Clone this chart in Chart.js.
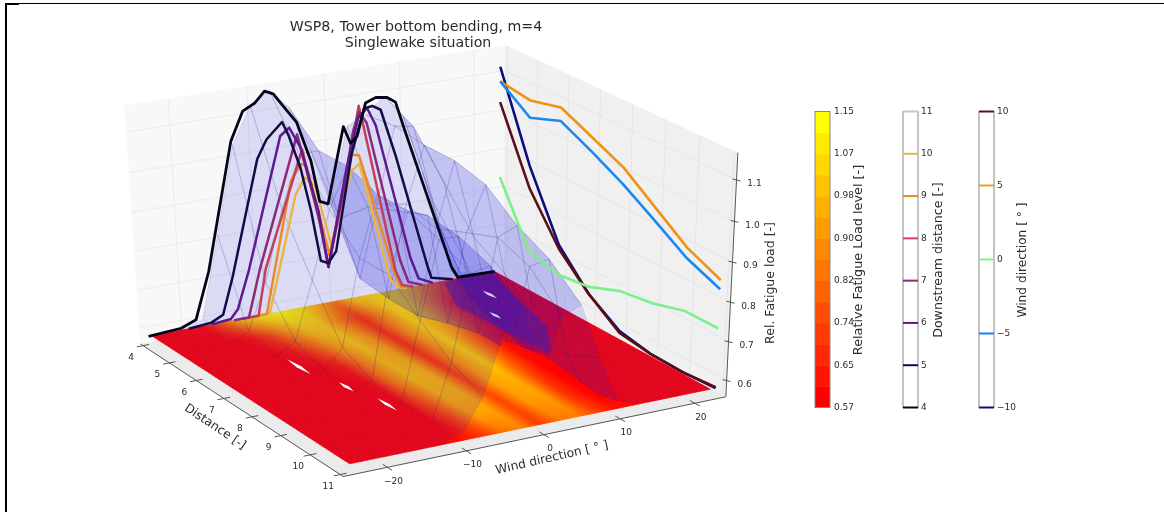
<!DOCTYPE html>
<html>
<head>
<meta charset="utf-8">
<title>WSP8 Tower bottom bending</title>
<script src="https://cdn.jsdelivr.net/npm/chart.js@4"></script>
<style>
  html, body { margin: 0; padding: 0; background: #fff; overflow: hidden; }
  #wrap { position: relative; width: 1164px; height: 512px; }
  #chart { position: absolute; left: 0; top: 0; filter: blur(0.6px); }
  .edge { position: absolute; background: #000; }
</style>
</head>
<body>
<div id="wrap">
  <canvas id="chart" width="1164" height="512"></canvas>
  <div class="edge" style="left:5px;top:3px;width:1159px;height:1px"></div>
  <div class="edge" style="left:5px;top:3px;width:14px;height:2px"></div>
  <div class="edge" style="left:5px;top:3px;width:2px;height:509px"></div>
</div>
<script>
// Load vs wind direction, one curve per downstream distance
const wind4 = [-24.7, -20.4, -18.4, -16.4, -12.7, -11, -9.4, -8.1, -7, -5, -4.1, -2.4, -1.4, -0.3, 2, 2.9, 3.8, 5, 6.4, 7.9, 9, 10.1, 16.4, 17.3, 22.5];
const load4 = [0.58, 0.585, 0.6, 0.72, 1.04, 1.11, 1.125, 1.15, 1.14, 1.085, 1.06, 0.957, 0.85, 0.84, 1.03, 0.985, 1.0, 1.08, 1.09, 1.085, 1.07, 1.0, 0.615, 0.583, 0.58];
const wind5 = [-19.4, -16.4, -14.8, -13.3, -9.4, -8.1, -6, -5.2, -3.8, -2.6, -1.5, -0.5, 0.6, 3, 4.8, 5.9, 7, 8.9, 13.1, 13.6, 16.6];
const load5 = [0.58, 0.585, 0.6, 0.695, 0.985, 1.03, 1.067, 1.03, 0.944, 0.83, 0.695, 0.685, 0.713, 0.956, 1.067, 1.07, 1.057, 0.934, 0.626, 0.595, 0.58];
const wind6 = [-16.4, -13.8, -12.8, -11.1, -6.3, -5.1, -3.7, -1.6, -0.5, 2.3, 4, 5.2, 6.3, 10.7, 11.8, 13.8];
const load6 = [0.58, 0.585, 0.608, 0.706, 1.033, 1.05, 0.995, 0.825, 0.675, 0.924, 1.046, 1.067, 1.02, 0.66, 0.6, 0.58];
const wind7 = [-13.4, -11.4, -9.7, -4.1, -3.3, -1.6, -0.5, 2.1, 3.3, 4.1, 5.1, 9.3, 10.4, 12.4];
const load7 = [0.58, 0.58, 0.7, 1.03, 0.96, 0.81, 0.675, 0.9, 1.016, 1.06, 1.03, 0.657, 0.595, 0.58];
const wind8 = [-12.4, -10.1, -8.9, -3.5, -1.4, -0.5, 2.1, 4.1, 4.5, 8.6, 9.5, 11.1];
const load8 = [0.58, 0.58, 0.7, 0.99, 0.786, 0.675, 0.887, 1.076, 1.04, 0.634, 0.59, 0.58];
const wind9 = [-11.4, -9, -7.7, -5.1, -3.7, -3, -0.3, 3, 4, 8.5, 9.3, 10.6];
const load9 = [0.58, 0.58, 0.693, 0.916, 0.954, 0.946, 0.705, 0.956, 0.95, 0.626, 0.587, 0.58];
const wind10 = [-10.4, -8.6, -7.1, -4.6, -3.3, -2, 0, 2.9, 4, 7.9, 8.9, 10.1];
const load10 = [0.58, 0.58, 0.69, 0.877, 0.918, 0.893, 0.73, 0.913, 0.93, 0.61, 0.587, 0.58];
const distColors = ['#05051a', '#120c45', '#5c1a8c', '#8a2a78', '#c23f5c', '#e98a28', '#e9b44a'];

// Load vs distance, one curve per wind direction
const windDist = [4, 5, 6, 7, 8, 9, 10, 11];
const loadWindMinus10 = [1.116, 0.9, 0.733, 0.646, 0.593, 0.577, 0.575, 0.58];
const loadWindMinus5 = [1.079, 1.023, 1.052, 1.013, 0.97, 0.919, 0.866, 0.832];
const loadWind0 = [0.831, 0.675, 0.654, 0.665, 0.697, 0.709, 0.733, 0.733];
const loadWind5 = [1.079, 1.067, 1.086, 1.049, 1.012, 0.952, 0.892, 0.855];
const loadWind10 = [1.026, 0.842, 0.723, 0.646, 0.588, 0.577, 0.575, 0.582];

// Load surface mesh, same values feed the floor contour and the blue sheet
const gridWind = [-24.3, -20, -17.5, -15, -12.5, -10, -7.5, -5, -2.5, 0, 2.5, 5, 7.5, 10, 12.5, 15, 17.5, 20, 22.5];
const gridDist = [4, 5, 6, 7, 8, 9, 10, 11];
const surface4 = [0.58, 0.585, 0.6, 0.81, 1.03, 1.12, 1.15, 1.1, 0.99, 0.84, 1.03, 1.05, 1.09, 1.03, 0.88, 0.72, 0.6, 0.58, 0.58];
const surface5 = [0.58, 0.58, 0.58, 0.6, 0.72, 0.9, 1.03, 1.03, 0.85, 0.685, 0.87, 1.06, 1.05, 0.85, 0.66, 0.585, 0.58, 0.58, 0.58];
const surface6 = [0.58, 0.58, 0.58, 0.58, 0.61, 0.76, 0.93, 1.03, 0.92, 0.675, 0.91, 1.05, 0.95, 0.75, 0.6, 0.58, 0.58, 0.58, 0.58];
const surface7 = [0.58, 0.58, 0.58, 0.58, 0.58, 0.63, 0.85, 1.0, 0.95, 0.675, 0.89, 1.05, 0.85, 0.63, 0.58, 0.58, 0.58, 0.58, 0.58];
const surface8 = [0.58, 0.58, 0.58, 0.58, 0.58, 0.59, 0.85, 1.0, 0.98, 0.7, 0.92, 1.03, 0.8, 0.6, 0.58, 0.58, 0.58, 0.58, 0.58];
const surface9 = [0.58, 0.58, 0.58, 0.58, 0.58, 0.58, 0.78, 0.97, 0.97, 0.72, 0.95, 0.97, 0.72, 0.58, 0.58, 0.58, 0.58, 0.58, 0.58];
const surface10 = [0.58, 0.58, 0.58, 0.58, 0.58, 0.58, 0.72, 0.93, 0.94, 0.72, 0.92, 0.93, 0.68, 0.58, 0.58, 0.58, 0.58, 0.58, 0.58];
const surface11 = [0.58, 0.58, 0.58, 0.58, 0.58, 0.6, 0.68, 0.82, 0.88, 0.7, 0.84, 0.86, 0.72, 0.6, 0.58, 0.58, 0.58, 0.58, 0.58];
const surfaceRows = [surface4, surface5, surface6, surface7, surface8, surface9, surface10, surface11];

// Small gaps in the floor contour: distance, wind direction
const holeDist = [6.63, 7.88, 8.95, 5.04, 6.04];
const holeWind = [-14.4, -12.9, -11.7, 17.6, 14.3];
const holeLen = [0.42, 0.25, 0.33, 0.25, 0.2];
const holeColors = ['#ffffff', '#ffffff', '#ffffff', '#cfcdf3', '#cfcdf3'];

// Tick labels
const distTicks = [4, 5, 6, 7, 8, 9, 10, 11];
const windTicks = [-20, -10, 0, 10, 20];
const loadTicks = [0.6, 0.7, 0.8, 0.9, 1.0, 1.1];
const levelLabels = ['0.57', '0.65', '0.74', '0.82', '0.90', '0.98', '1.07', '1.15'];
const distBarLabels = ['4', '5', '6', '7', '8', '9', '10', '11'];
const distBarColors = ['#05051a', '#120c45', '#5c1a8c', '#8a2a78', '#d8405a', '#e98a28', '#e9b44a', '#c8c8b8'];
const windBarLabels = ['\u221210', '\u22125', '0', '5', '10'];
const windBarColors = ['#120c70', '#1a80f0', '#80f080', '#ef9a20', '#5a1414'];

// Axes box limits
const dLo = 3.9, dHi = 11.1, wLo = -25.5, wHi = 24.2, zLo = 0.558, zHi = 1.165;
const floorLoad = 0.58;
const windWall = 23.2;
const LOAD_MIN = 0.57, LOAD_MAX = 1.15;

// Where the corners of the axes box land on the page (camera calibration)
const boxCorners = [
  [0, 0, 0, 140, 345], [1, 0, 0, 343, 476], [1, 1, 0, 725, 397], [0, 1, 0, 505, 275],
  [0, 0, 1, 125, 105], [0, 1, 1, 503, 45], [1, 1, 1, 739, 153]
];

// Least squares fit of the projective camera
function fitCamera(points) {
  const n = 11;
  const A = [];
  for (let i = 0; i < n; i++) A.push(new Array(n + 1).fill(0));
  function addRow(row, rhs) {
    for (let i = 0; i < n; i++) {
      for (let j = 0; j < n; j++) A[i][j] += row[i] * row[j];
      A[i][n] += row[i] * rhs;
    }
  }
  points.forEach(([X, Y, Z, u, v]) => {
    addRow([X, Y, Z, 1, 0, 0, 0, 0, -u * X, -u * Y, -u * Z], u);
    addRow([0, 0, 0, 0, X, Y, Z, 1, -v * X, -v * Y, -v * Z], v);
  });
  for (let c = 0; c < n; c++) {
    let best = c;
    for (let r = c + 1; r < n; r++) if (Math.abs(A[r][c]) > Math.abs(A[best][c])) best = r;
    [A[c], A[best]] = [A[best], A[c]];
    for (let r = 0; r < n; r++) {
      if (r === c) continue;
      const f = A[r][c] / A[c][c];
      for (let k = c; k <= n; k++) A[r][k] -= f * A[c][k];
    }
  }
  return A.map((row, i) => row[n] / row[i]);
}
const cam = fitCamera(boxCorners);

// distance, wind direction, load -> page position
function project(d, w, z) {
  const X = (d - dLo) / (dHi - dLo), Y = (w - wLo) / (wHi - wLo), Z = (z - zLo) / (zHi - zLo);
  const q = cam[8] * X + cam[9] * Y + cam[10] * Z + 1;
  return {
    x: (cam[0] * X + cam[1] * Y + cam[2] * Z + cam[3]) / q,
    y: (cam[4] * X + cam[5] * Y + cam[6] * Z + cam[7]) / q
  };
}

function autumn(z) {
  const t = Math.max(0, Math.min(1, (z - LOAD_MIN) / (LOAD_MAX - LOAD_MIN)));
  return 'rgb(255,' + Math.round(255 * t) + ',0)';
}

function distCurve(wind, load) {
  return wind.map((w, i) => project(4, w, load[i]));
}
function windCurve(load) {
  return windDist.map((d, i) => project(d, windWall, load[i]));
}

const distCurves = [[wind4, load4], [wind5, load5], [wind6, load6], [wind7, load7], [wind8, load8], [wind9, load9], [wind10, load10]];
const datasets = distCurves.map((c, i) => ({
  data: distCurve(c[0], c[1]),
  borderColor: distColors[i],
  borderWidth: i === 0 ? 2.8 : 2.5
}));
datasets.push({ data: windCurve(loadWindMinus5), borderColor: '#1a88f0', borderWidth: 2.6 });
datasets.push({ data: windCurve(loadWind5), borderColor: '#ef9412', borderWidth: 2.6 });
datasets.push({ data: windCurve(loadWind0), borderColor: '#7cf08a', borderWidth: 2.6 });
datasets.push({ data: windCurve(loadWind10), borderColor: '#5a0f14', borderWidth: 2.6 });
datasets.push({ data: windCurve(loadWindMinus10), borderColor: '#0c0c80', borderWidth: 2.6 });

// Painted on the box, under the curves
const scenePlugin = {
  id: 'scene',
  beforeDatasetsDraw(chart) {
    const ctx = chart.ctx;
    const sx = chart.scales.x, sy = chart.scales.y;
    const px = p => [sx.getPixelForValue(p.x), sy.getPixelForValue(p.y)];

    function poly(points, fill, stroke, lw) {
      ctx.beginPath();
      points.forEach((p, i) => {
        const [a, b] = px(p);
        if (i === 0) ctx.moveTo(a, b); else ctx.lineTo(a, b);
      });
      ctx.closePath();
      if (fill) { ctx.fillStyle = fill; ctx.fill(); }
      if (stroke) { ctx.strokeStyle = stroke; ctx.lineWidth = lw || 1; ctx.stroke(); }
    }
    function line(a, b, color, lw) {
      ctx.beginPath();
      ctx.moveTo(...px(a));
      ctx.lineTo(...px(b));
      ctx.strokeStyle = color;
      ctx.lineWidth = lw || 1;
      ctx.stroke();
    }

    // Panes
    poly([project(dLo, wLo, zLo), project(dLo, wHi, zLo), project(dLo, wHi, zHi), project(dLo, wLo, zHi)], '#f8f8f8');
    poly([project(dLo, wHi, zLo), project(dHi, wHi, zLo), project(dHi, wHi, zHi), project(dLo, wHi, zHi)], '#f0f0f0');
    poly([project(dLo, wLo, zLo), project(dHi, wLo, zLo), project(dHi, wHi, zLo), project(dLo, wHi, zLo)], '#ebebeb');

    // Wall grid lines
    windTicks.forEach(w => line(project(dLo, w, zLo), project(dLo, w, zHi), '#ebebeb'));
    distTicks.forEach(d => line(project(d, wHi, zLo), project(d, wHi, zHi), '#e6e6e6'));
    loadTicks.forEach(z => {
      line(project(dLo, wLo, z), project(dLo, wHi, z), '#ebebeb');
      line(project(dLo, wHi, z), project(dHi, wHi, z), '#e6e6e6');
    });

    // Floor contour, each mesh cell shaded in small steps
    function paintFloor() {
      const stepsW = 6, stepsD = 8;
      for (let j = 0; j < gridDist.length - 1; j++) {
        for (let i = 0; i < gridWind.length - 1; i++) {
          for (let b = 0; b < stepsD; b++) {
            for (let a = 0; a < stepsW; a++) {
              const u = (a + 0.5) / stepsW, v = (b + 0.5) / stepsD;
              const z = (1 - v) * ((1 - u) * surfaceRows[j][i] + u * surfaceRows[j][i + 1]) +
                        v * ((1 - u) * surfaceRows[j + 1][i] + u * surfaceRows[j + 1][i + 1]);
              const w0 = gridWind[i] + (gridWind[i + 1] - gridWind[i]) * a / stepsW;
              const w1 = gridWind[i] + (gridWind[i + 1] - gridWind[i]) * (a + 1) / stepsW;
              const d0 = gridDist[j] + (gridDist[j + 1] - gridDist[j]) * b / stepsD;
              const d1 = gridDist[j] + (gridDist[j + 1] - gridDist[j]) * (b + 1) / stepsD;
              const c = autumn(z);
              poly([project(d0, w0, floorLoad), project(d1, w0, floorLoad), project(d1, w1, floorLoad), project(d0, w1, floorLoad)], c, c, 0.7);
            }
          }
        }
      }
    }
    paintFloor();

    // Blue translucent sheet
    for (let j = 0; j < gridDist.length - 1; j++) {
      for (let i = 0; i < gridWind.length - 1; i++) {
        const corners = [surfaceRows[j][i], surfaceRows[j + 1][i], surfaceRows[j + 1][i + 1], surfaceRows[j][i + 1]];
        const raised = Math.max(...corners) > 0.6;
        poly([
          project(gridDist[j], gridWind[i], corners[0]),
          project(gridDist[j + 1], gridWind[i], corners[1]),
          project(gridDist[j + 1], gridWind[i + 1], corners[2]),
          project(gridDist[j], gridWind[i + 1], corners[3])
        ], 'rgba(20,20,230,0.12)', raised ? 'rgba(30,30,120,0.16)' : null, 0.8);
      }
    }

    // Darker fold of the sheet over the far corner of the floor
    poly([project(4.1, 15, floorLoad), project(4, 22, floorLoad), project(7, 17.5, floorLoad), project(8.2, 13, floorLoad), project(5.3, 12, floorLoad)], 'rgba(50,30,190,0.5)');

    // Part of the floor that sits in front of the sheet
    ctx.save();
    ctx.beginPath();
    [project(11, -7, floorLoad), project(7.2, 10.5, floorLoad), project(8.2, 12, floorLoad), project(11, 10, floorLoad)].forEach((p, i) => {
      const [a, b] = px(p);
      if (i === 0) ctx.moveTo(a, b); else ctx.lineTo(a, b);
    });
    ctx.closePath();
    ctx.clip();
    paintFloor();
    ctx.restore();

    // Gaps in the contour
    holeDist.forEach((d, i) => {
      const w = holeWind[i], len = holeLen[i];
      poly([project(d - len, w, floorLoad), project(d, w + 0.3, floorLoad), project(d + len, w, floorLoad), project(d, w - 0.3, floorLoad)], holeColors[i]);
    });

    // Axis lines and ticks
    const axisColor = '#555';
    line(project(dLo, wLo, zLo), project(dHi, wLo, zLo), axisColor);
    line(project(dHi, wLo, zLo), project(dHi, wHi, zLo), axisColor);
    line(project(dHi, wHi, zLo), project(dHi, wHi, zHi), axisColor);
    distTicks.forEach(d => line(project(d, wLo - 0.8, zLo), project(d, wLo + 0.8, zLo), axisColor));
    windTicks.forEach(w => line(project(dHi - 0.15, w, zLo), project(dHi + 0.15, w, zLo), axisColor));
    loadTicks.forEach(z => {
      const p = project(dHi, wHi, z);
      line({ x: p.x - 4, y: p.y - 1 }, { x: p.x + 4, y: p.y + 1 }, axisColor);
    });
  },

  afterDraw(chart) {
    const ctx = chart.ctx;
    const textColor = '#2b2b2b';
    function text(str, x, y, size, angle, align) {
      ctx.save();
      ctx.translate(x, y);
      ctx.rotate((angle || 0) * Math.PI / 180);
      ctx.font = size + 'px "DejaVu Sans"';
      ctx.fillStyle = textColor;
      ctx.textAlign = align || 'center';
      ctx.textBaseline = 'middle';
      ctx.fillText(str, 0, 0);
      ctx.restore();
    }

    text('WSP8, Tower bottom bending, m=4', 416, 27, 14.2);
    text('Singlewake situation', 418, 43, 14.2);
    text('Distance [-]', 215, 427, 12.2, 34);
    text('Wind direction [ \u00b0 ]', 552, 458, 12.2, -13);
    text('Rel. Fatigue load [-]', 771, 283, 12.5, -90);

    distTicks.forEach(d => {
      const p = project(d, wLo, zLo);
      text(String(d), p.x - 12, p.y + 12, 9);
    });
    windTicks.forEach(w => {
      const p = project(dHi, w, zLo);
      text(String(w).replace('-', '\u2212'), p.x + 6, p.y + 14, 9);
    });
    loadTicks.forEach(z => {
      const p = project(dHi, wHi, z);
      text(z.toFixed(1), p.x + 18, p.y + 4, 9);
    });

    // Colour bars
    const barTop = 111.5, barBottom = 407.5, barW = 15;
    function frame(x) {
      ctx.strokeStyle = '#888';
      ctx.lineWidth = 1;
      ctx.strokeRect(x, barTop, barW, barBottom - barTop);
    }
    // fatigue level, 14 bands
    const bands = 14, bandH = (barBottom - barTop) / bands;
    for (let i = 0; i < bands; i++) {
      const level = LOAD_MIN + (LOAD_MAX - LOAD_MIN) * (i / (bands - 1));
      ctx.fillStyle = autumn(level);
      ctx.fillRect(815, barBottom - (i + 1) * bandH, barW, bandH + 0.5);
    }
    frame(815);
    levelLabels.forEach((s, i) => {
      text(s, 834, barBottom - i * (barBottom - barTop) / (levelLabels.length - 1), 9, 0, 'left');
    });
    text('Relative Fatigue Load level [-]', 859, 260, 12.8, -90);

    function lineBar(x, labels, colors, title, titleX, titleSize) {
      ctx.fillStyle = '#fff';
      ctx.fillRect(x, barTop, barW, barBottom - barTop);
      frame(x);
      labels.forEach((s, i) => {
        const y = barBottom - i * (barBottom - barTop) / (labels.length - 1);
        ctx.strokeStyle = colors[i];
        ctx.lineWidth = 2;
        ctx.beginPath();
        ctx.moveTo(x, y);
        ctx.lineTo(x + barW, y);
        ctx.stroke();
        text(s, x + barW + 3, y, 9, 0, 'left');
      });
      text(title, titleX, 260, titleSize, -90);
    }
    lineBar(903, distBarLabels, distBarColors, 'Downstream distance [-]', 939, 12.6);
    lineBar(979, windBarLabels, windBarColors, 'Wind direction [ \u00b0 ]', 1023, 12.2);
  }
};

new Chart(document.getElementById('chart').getContext('2d'), {
  type: 'scatter',
  data: { datasets: datasets },
  options: {
    responsive: false,
    animation: false,
    layout: { padding: 0 },
    showLine: true,
    clip: false,
    elements: { point: { radius: 0 }, line: { tension: 0, fill: false, borderJoinStyle: 'round' } },
    plugins: { legend: { display: false }, tooltip: { enabled: false }, title: { display: false } },
    scales: {
      x: { type: 'linear', min: 0, max: 1164, display: false },
      y: { type: 'linear', min: 0, max: 512, reverse: true, display: false }
    }
  },
  plugins: [scenePlugin]
});
</script>
</body>
</html>
